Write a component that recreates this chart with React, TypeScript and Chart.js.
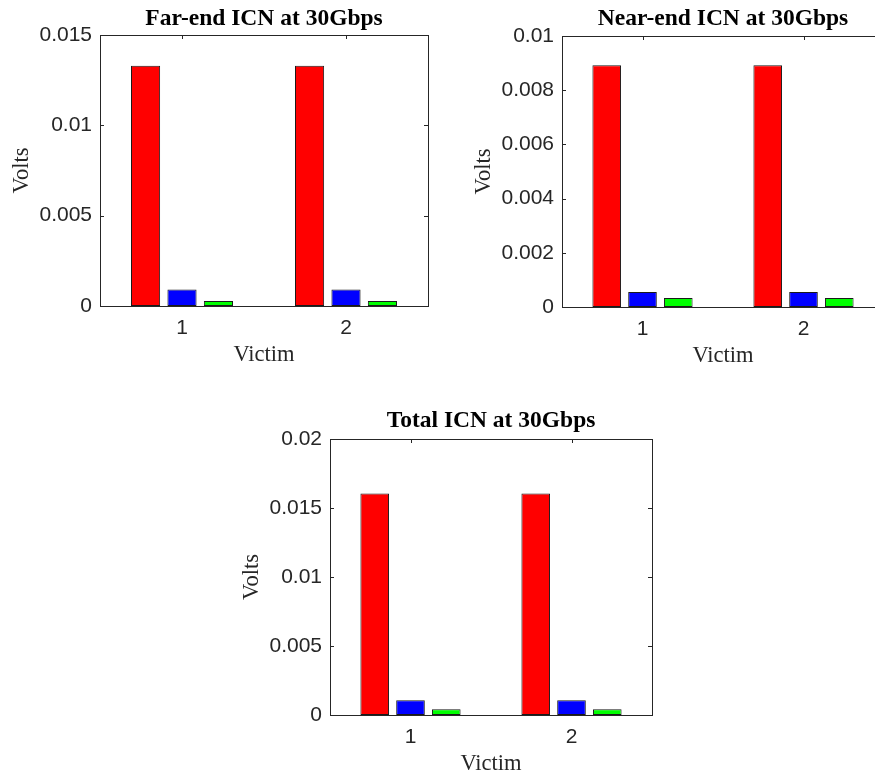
import React, { useEffect, useRef } from 'react';
import { Chart, registerables } from 'chart.js';

Chart.register(...registerables);

// ---------- data ----------
const victims = ['1', '2'];
const seriesColors = ['#ff0000', '#0000ff', '#00ff00'];

const farEndRed = [0.0133, 0.0133];
const farEndBlue = [0.00092, 0.00092];
const farEndGreen = [0.00028, 0.00028];
const farEndTicks = [0, 0.005, 0.01, 0.015];
const farEndTickLabels = ['0', '0.005', '0.01', '0.015'];

const nearEndRed = [0.00892, 0.00892];
const nearEndBlue = [0.00055, 0.00055];
const nearEndGreen = [0.00033, 0.00033];
const nearEndTicks = [0, 0.002, 0.004, 0.006, 0.008, 0.01];
const nearEndTickLabels = ['0', '0.002', '0.004', '0.006', '0.008', '0.01'];

const totalRed = [0.01605, 0.01605];
const totalBlue = [0.00107, 0.00107];
const totalGreen = [0.00042, 0.00042];
const totalTicks = [0, 0.005, 0.01, 0.015, 0.02];
const totalTickLabels = ['0', '0.005', '0.01', '0.015', '0.02'];

// ---------- style ----------
const AXIS_COLOR = '#262626';
const SANS = "'Liberation Sans', Arial, Helvetica, sans-serif";
const SERIF = "'Liberation Serif', 'Times New Roman', serif";
const TITLE_SIZE = 23.5;
const LABEL_SIZE = 22.5;
const TICK_SIZE = 21;
const XAXIS_H = 62;

const framePlugin = {
  id: 'matlabFrame',
  beforeDatasetsDraw(chart: any) {
    const { ctx, chartArea: a, scales } = chart;
    const len = 4;
    ctx.save();
    ctx.strokeStyle = AXIS_COLOR;
    ctx.lineWidth = 1;
    ctx.beginPath();
    scales.y.ticks.forEach((t: any) => {
      const y = Math.round(scales.y.getPixelForValue(t.value)) + 0.5;
      ctx.moveTo(a.left, y);
      ctx.lineTo(a.left + len, y);
      ctx.moveTo(a.right, y);
      ctx.lineTo(a.right - len, y);
    });
    scales.x.ticks.forEach((_t: any, i: number) => {
      const x = Math.round(scales.x.getPixelForTick(i)) + 0.5;
      ctx.moveTo(x, a.top);
      ctx.lineTo(x, a.top + len);
      ctx.moveTo(x, a.bottom);
      ctx.lineTo(x, a.bottom - len);
    });
    ctx.stroke();
    ctx.restore();
  },
  afterDatasetsDraw(chart: any) {
    const { ctx, chartArea: a } = chart;
    ctx.save();
    ctx.strokeStyle = AXIS_COLOR;
    ctx.lineWidth = 1;
    const l = Math.round(a.left) + 0.5;
    const t = Math.round(a.top) + 0.5;
    const r = Math.round(a.right) + 0.5;
    const b = Math.round(a.bottom) + 0.5;
    ctx.strokeRect(l, t, r - l, b - t);
    ctx.restore();
  },
};

type PanelProps = {
  title: string;
  series: number[][];
  ticks: number[];
  tickLabels: string[];
  left: number;
  top: number;
  width: number;
  height: number;
  area: { L: number; R: number; T: number; B: number };
  titleY: number;
};

function Panel(p: PanelProps) {
  const ref = useRef<HTMLCanvasElement>(null);
  useEffect(() => {
    const { L, R, T, B } = p.area;
    const chart = new Chart(ref.current as HTMLCanvasElement, {
      type: 'bar',
      data: {
        labels: victims,
        datasets: p.series.map((d, i) => ({
          data: d,
          backgroundColor: seriesColors[i],
          borderColor: '#1a1a1a',
          borderWidth: 1,
          borderSkipped: false,
          categoryPercentage: 2 / 3,
          barPercentage: 0.8,
        })),
      },
      options: {
        animation: false,
        responsive: false,
        maintainAspectRatio: false,
        devicePixelRatio: 1,
        layout: {
          padding: { left: 0, top: 0, right: p.width - R, bottom: p.height - B - XAXIS_H },
        },
        plugins: {
          legend: { display: false },
          tooltip: { enabled: false },
          title: {
            display: true,
            text: p.title,
            fullSize: false,
            color: '#000000',
            font: { family: SERIF, size: TITLE_SIZE, weight: 'bold', lineHeight: 1 },
            padding: { top: p.titleY - TITLE_SIZE / 2, bottom: T - p.titleY - TITLE_SIZE / 2 },
          },
        },
        scales: {
          x: {
            type: 'category',
            offset: true,
            grid: { display: false, drawTicks: false },
            border: { display: false },
            ticks: {
              color: AXIS_COLOR,
              font: { family: SANS, size: TICK_SIZE, lineHeight: 1.2 },
              padding: 9.4,
              maxRotation: 0,
            },
            title: {
              display: true,
              text: 'Victim',
              color: AXIS_COLOR,
              font: { family: SERIF, size: LABEL_SIZE, lineHeight: 1 },
              padding: { top: 0, bottom: XAXIS_H - 49.5 - LABEL_SIZE / 2 },
            },
            afterFit: (s: any) => {
              s.height = XAXIS_H;
            },
          },
          y: {
            type: 'linear',
            min: p.ticks[0],
            max: p.ticks[p.ticks.length - 1],
            afterBuildTicks: (s: any) => {
              s.ticks = p.ticks.map((v) => ({ value: v }));
            },
            grid: { display: false, drawTicks: false },
            border: { display: false },
            ticks: {
              color: AXIS_COLOR,
              font: { family: SANS, size: TICK_SIZE, lineHeight: 1.2 },
              padding: 8,
              autoSkip: false,
              callback: (_v: any, i: number) => p.tickLabels[i],
            },
            title: {
              display: true,
              text: 'Volts',
              color: AXIS_COLOR,
              font: { family: SERIF, size: LABEL_SIZE, lineHeight: 1 },
              padding: { top: L - 77.5 - LABEL_SIZE / 2, bottom: 0 },
            },
            afterFit: (s: any) => {
              s.width = L;
            },
          },
        },
      } as any,
      plugins: [framePlugin],
    });
    return () => chart.destroy();
  }, []);
  return (
    <div style={{ position: 'absolute', left: p.left, top: p.top, width: p.width, height: p.height }}>
      <canvas ref={ref} width={p.width} height={p.height} style={{ width: p.width, height: p.height, display: 'block' }} />
    </div>
  );
}

export default function App() {
  return (
    <div
      style={{
        position: 'absolute',
        left: 0,
        top: 0,
        width: 875,
        height: 777,
        overflow: 'hidden',
        background: '#ffffff',
      }}
    >
      <Panel
        title="Far-end ICN at 30Gbps"
        series={[farEndRed, farEndBlue, farEndGreen]}
        ticks={farEndTicks}
        tickLabels={farEndTickLabels}
        left={0}
        top={0}
        width={440}
        height={380}
        area={{ L: 100, R: 428, T: 35, B: 306 }}
        titleY={18.5}
      />
      <Panel
        title="Near-end ICN at 30Gbps"
        series={[nearEndRed, nearEndBlue, nearEndGreen]}
        ticks={nearEndTicks}
        tickLabels={nearEndTickLabels}
        left={440}
        top={0}
        width={460}
        height={380}
        area={{ L: 122, R: 444, T: 36, B: 307 }}
        titleY={19}
      />
      <Panel
        title="Total ICN at 30Gbps"
        series={[totalRed, totalBlue, totalGreen]}
        ticks={totalTicks}
        tickLabels={totalTickLabels}
        left={230}
        top={400}
        width={440}
        height={377}
        area={{ L: 100, R: 422, T: 39, B: 315 }}
        titleY={20.8}
      />
    </div>
  );
}
